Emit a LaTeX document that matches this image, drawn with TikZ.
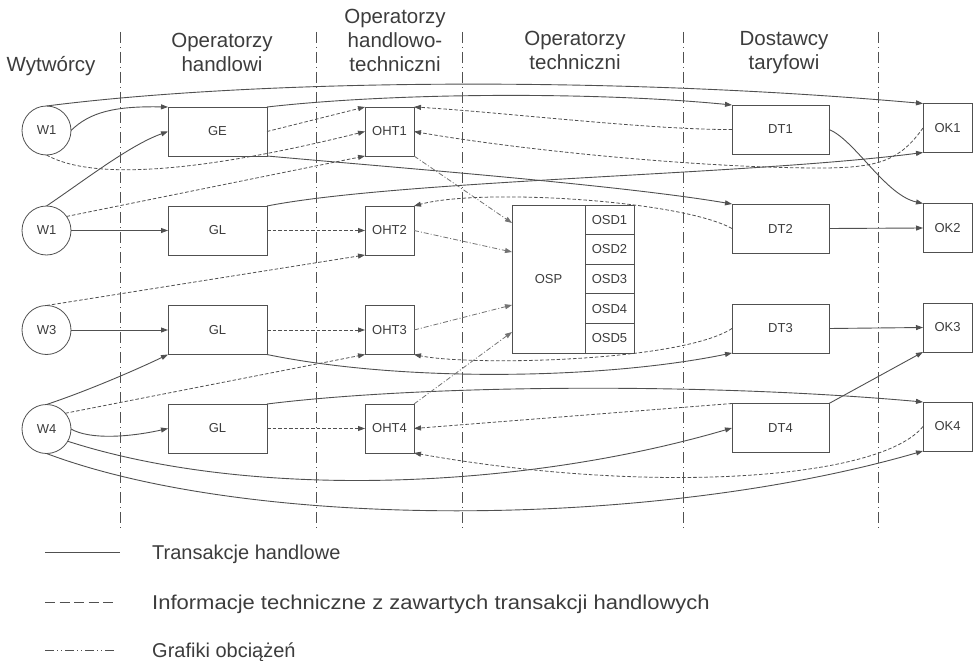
\documentclass[tikz,border=0pt]{standalone}
\usepackage{fontspec}
\setmainfont{Liberation Sans}
\usetikzlibrary{arrows.meta}
\definecolor{lc}{RGB}{80,80,80}
\definecolor{tc}{RGB}{60,60,60}
\begin{document}
\begin{tikzpicture}[x=1pt,y=-1pt,
 wc/.style={circle,draw=lc,line width=0.8pt,minimum size=49pt,inner sep=0pt,outer sep=0pt,font=\fontsize{13}{15}\selectfont,text=tc},
 hbox/.style={rectangle,draw=lc,line width=0.8pt,minimum width=99pt,minimum height=49pt,inner sep=0pt,outer sep=0pt,font=\fontsize{13}{15}\selectfont,text=tc},
 sbox/.style={hbox,minimum width=49pt},
 dbox/.style={hbox,minimum width=97pt},
 ospbox/.style={hbox,minimum width=73pt,minimum height=148pt},
 osdbox/.style={hbox,minimum width=49pt,minimum height=29.6pt},
 hdr/.style={font=\fontsize{20.5}{24}\selectfont,text=tc,inner sep=0pt,anchor=base},
 legtxt/.style={font=\fontsize{20}{23}\selectfont,text=tc,inner sep=0pt,anchor=base west},
 lnSep/.style={draw=lc,line width=0.9pt,dash pattern=on 11pt off 4pt on 1pt off 4pt},
 lnTr/.style={draw=lc,line width=0.9pt},
 lnInf/.style={draw=lc,line width=0.8pt,dash pattern=on 3.5pt off 2pt},
 lnGr/.style={draw=lc!80,line width=0.8pt,dash pattern=on 5pt off 2pt on 1pt off 2pt},
 tipA/.style={-{Triangle[length=7pt,width=5pt]}},
]
\useasboundingbox (0,0) rectangle (975,661);

% column separators
\foreach \xx in {120,316,462,683,878}{
  \coordinate (st\xx) at (\xx,32);
  \coordinate (en\xx) at (\xx,528);
  \draw[lnSep] (st\xx) -- (en\xx);
}

% headers
\node[hdr] (h1) at (51,72) {Wytwórcy};
\node[hdr] (h2a) at (222,48) {Operatorzy};
\node[hdr] (h2b) at (222,72) {handlowi};
\node[hdr] (h3a) at (395,24) {Operatorzy};
\node[hdr] (h3b) at (395,48) {handlowo-};
\node[hdr] (h3c) at (395,72) {techniczni};
\node[hdr] (h4a) at (575,46) {Operatorzy};
\node[hdr] (h4b) at (575,70) {techniczni};
\node[hdr] (h5a) at (784,46) {Dostawcy};
\node[hdr] (h5b) at (784,70) {taryfowi};

% producers
\node[wc] (W1a) at (46.5,130.5) {W1};
\node[wc] (W1b) at (46.5,230.5) {W1};
\node[wc] (W3) at (46.5,330) {W3};
\node[wc] (W4) at (46.5,429) {W4};

% trade operators
\node[hbox] (GE) at (217.5,131.5) {GE};
\node[hbox] (GL2) at (217.5,230.5) {GL};
\node[hbox] (GL3) at (217.5,330) {GL};
\node[hbox] (GL4) at (217.5,428.5) {GL};

% trade-technical operators
\node[sbox] (OHT1) at (389.5,131.5) {OHT1};
\node[sbox] (OHT2) at (389.5,230.5) {OHT2};
\node[sbox] (OHT3) at (389.5,330) {OHT3};
\node[sbox] (OHT4) at (389.5,428.5) {OHT4};

% technical operators
\node[ospbox] (OSP) at (548.5,279) {OSP};
\node[osdbox] (OSD1) at (609.5,219.8) {OSD1};
\node[osdbox] (OSD2) at (609.5,249.4) {OSD2};
\node[osdbox] (OSD3) at (609.5,279) {OSD3};
\node[osdbox] (OSD4) at (609.5,308.6) {OSD4};
\node[osdbox] (OSD5) at (609.5,338.2) {OSD5};

% tariff suppliers
\node[dbox] (DT1) at (780.5,129.5) {DT1};
\node[dbox] (DT2) at (780.5,228.5) {DT2};
\node[dbox] (DT3) at (780.5,328.5) {DT3};
\node[dbox] (DT4) at (780.5,428) {DT4};

% customers
\node[sbox] (OK1) at (947.5,128) {OK1};
\node[sbox] (OK2) at (947.5,228) {OK2};
\node[sbox] (OK3) at (947.5,327.5) {OK3};
\node[sbox] (OK4) at (947.5,426.5) {OK4};

% ---- row 1
\draw[lnTr,tipA] (W1a.north) .. controls (250,80) and (600,75) .. (OK1.north west);
\draw[lnTr,tipA] (W1a.east) .. controls (90,112) and (115,106) .. (GE.north west);
\draw[lnInf,tipA] (W1a.south) .. controls (100,185) and (230,165) .. (OHT1.west);
\draw[lnInf,tipA] (W1b.35) -- (OHT1.south west);
\draw[lnTr,tipA] (W1b.north) .. controls (85,180) and (130,145) .. (GE.west);
\draw[lnInf,tipA] (GE.east) -- (OHT1.north west);
\draw[lnTr,tipA] (GE.north east) .. controls (400,92) and (600,92) .. (DT1.north west);
\draw[lnTr,tipA] (GE.south east) .. controls (400,168) and (620,185) .. (DT2.north west);
\draw[lnTr,tipA] (GL2.north east) .. controls (400,180) and (750,175) .. (OK1.south west);
\draw[lnInf,tipA] (DT1.west) .. controls (650,130) and (500,112) .. (OHT1.north east);
\coordinate (k1) at (820,168);
\draw[lnInf,tipA] (OK1.west) .. controls (900,160) and (880,168) .. (k1) .. controls (700,168) and (520,150) .. (OHT1.east);
\draw[lnTr,tipA] (DT1.east) .. controls (855,140) and (885,195) .. (OK2.north west);
\draw[lnGr,tipA] (OHT1.south east) -- (OSP.west |- 0,223);

% ---- row 2
\draw[lnTr,tipA] (W1b.east) -- (GL2.west);
\draw[lnInf,tipA] (GL2.east) -- (OHT2.west);
\draw[lnGr,tipA] (OHT2.east) -- (OSP.west |- 0,252);
\draw[lnInf,tipA] (DT2.west) .. controls (680,200) and (480,188) .. (OHT2.north east);
\draw[lnTr,tipA] (DT2.east) -- (OK2.west);
\draw[lnInf,tipA] (W3.north) -- (OHT2.south west);

% ---- row 3
\draw[lnTr,tipA] (W3.east) -- (GL3.west);
\draw[lnInf,tipA] (GL3.east) -- (OHT3.west);
\draw[lnGr,tipA] (OHT3.east) -- (OSP.west |- 0,305);
\draw[lnInf,tipA] (DT3.west) .. controls (680,362) and (470,366) .. (OHT3.south east);
\draw[lnTr,tipA] (GL3.south east) .. controls (400,382) and (600,380) .. (DT3.south west);
\draw[lnTr,tipA] (W4.north) .. controls (90,390) and (140,368) .. (GL3.south west);
\draw[lnInf,tipA] (W4.40) -- (OHT3.south west);
\draw[lnTr,tipA] (DT3.east) -- (OK3.west);
\draw[lnTr,tipA] (DT4.north east) -- (OK3.south west);

% ---- row 4
\draw[lnTr,tipA] (GL4.north east) .. controls (420,385) and (700,382) .. (OK4.north west);
\draw[lnInf,tipA] (DT4.north west) -- (OHT4.east);
\draw[lnGr,tipA] (OHT4.north east) -- (OSP.west |- 0,332);
\draw[lnTr,tipA] (W4.east) .. controls (90,440) and (130,437) .. (GL4.west);
\draw[lnInf,tipA] (GL4.east) -- (OHT4.west);
\draw[lnTr,tipA] (W4.-30) .. controls (250,500) and (520,490) .. (DT4.west);
\draw[lnInf,tipA] (OK4.west) .. controls (880,480) and (650,495) .. (OHT4.south east);
\draw[lnTr,tipA] (W4.south) .. controls (250,530) and (650,530) .. (OK4.south west);

% ---- legend
\coordinate (l1a) at (45,552); \coordinate (l1b) at (120,552);
\coordinate (l2a) at (45,602); \coordinate (l2b) at (117,602);
\coordinate (l3a) at (45,650); \coordinate (l3b) at (117,650);
\draw[lnTr] (l1a) -- (l1b);
\draw[draw=lc,line width=0.9pt,dash pattern=on 10pt off 4.5pt] (l2a) -- (l2b);
\draw[draw=lc,line width=0.9pt,dash pattern=on 9pt off 3pt on 1pt off 3pt on 1pt off 3pt] (l3a) -- (l3b);
\node[legtxt] (t1) at (152,559) {Transakcje handlowe};
\node[legtxt] (t2) at (152,609) {\scalebox{1.1}[1]{Informacje techniczne z zawartych transakcji handlowych}};
\node[legtxt] (t3) at (152,657) {Grafiki obciążeń};
\end{tikzpicture}
\end{document}
